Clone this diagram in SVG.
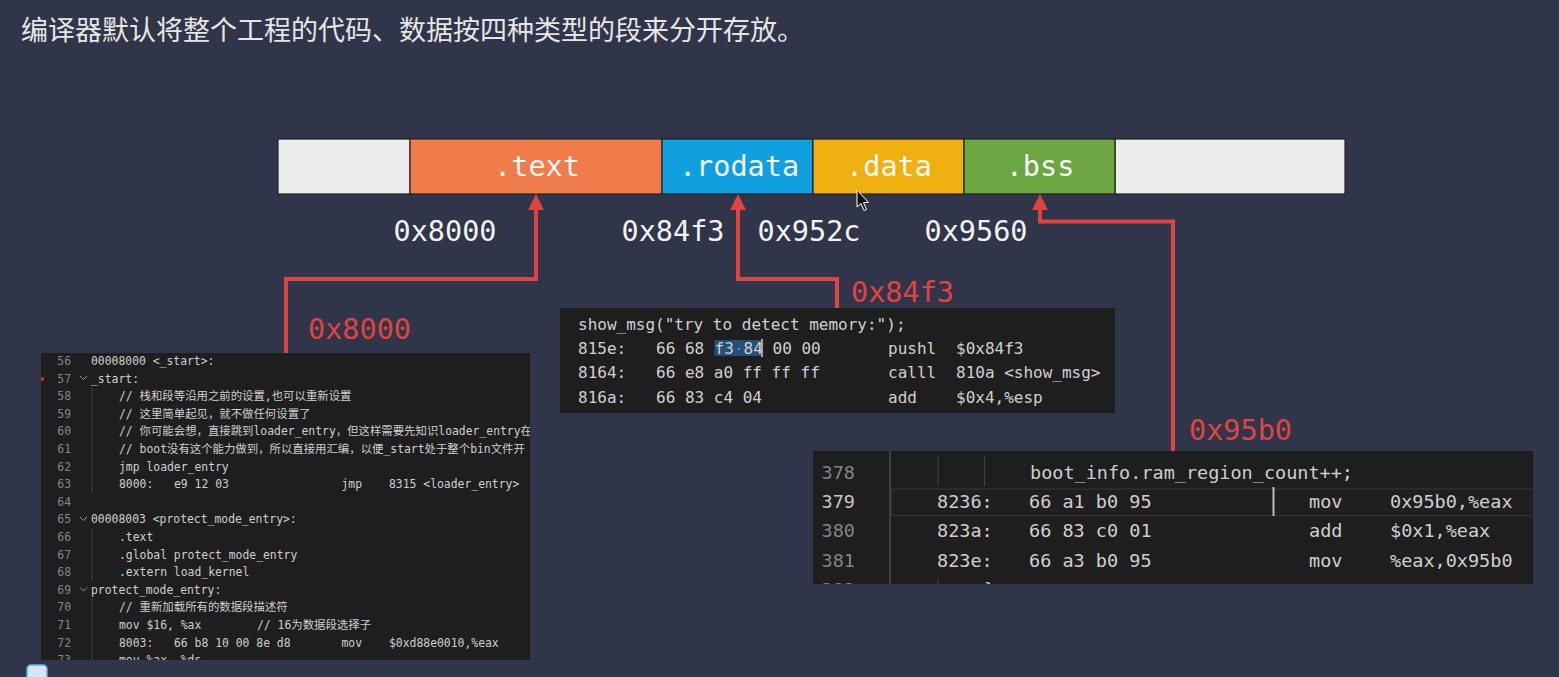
<svg xmlns="http://www.w3.org/2000/svg" width="1559" height="677" viewBox="0 0 1559 677">
<style>
.title{font-family:"Noto Sans CJK SC","Noto Sans",sans-serif;font-size:27px;fill:#e6e6e6}
.seg{stroke:#222;stroke-width:1.2}
.seglbl{font-family:"DejaVu Sans Mono",monospace;font-size:28.5px;fill:#f6f6f6;text-anchor:middle}
.addr{font-family:"DejaVu Sans Mono",monospace;font-size:28.5px;fill:#f2f2f2;text-anchor:middle}
.red{font-family:"DejaVu Sans Mono",monospace;font-size:28.5px;fill:#e04343}
.conn{fill:none;stroke:#e04343;stroke-width:4;marker-end:url(#ah)}
.codebg{fill:#1e1e1e}
.cs{font-family:"DejaVu Sans Mono","Noto Sans CJK SC",monospace;font-size:11.4px;fill:#cfcfcf}
.ln{font-family:"DejaVu Sans Mono",monospace;font-size:11.4px;fill:#858585;text-anchor:end}
.cm{font-family:"DejaVu Sans Mono",monospace;font-size:16px;fill:#d0d0d0}
.cl{font-family:"DejaVu Sans Mono",monospace;font-size:18.5px;fill:#cfcfcf}
.lnl{font-family:"DejaVu Sans Mono",monospace;font-size:18.5px;fill:#858585}
.guide{stroke:#404040;stroke-width:1}
.chev{fill:none;stroke:#9a9a9a;stroke-width:1}
</style>
<defs>
<marker id="ah" markerUnits="userSpaceOnUse" markerWidth="16" markerHeight="16" viewBox="0 0 16 16" refX="4" refY="8" orient="auto">
<path d="M0,0 L16,8 L0,16 Z" fill="#e04343"/>
</marker>
<clipPath id="clipL"><rect x="41" y="353" width="489" height="307"/></clipPath>
<clipPath id="clipR"><rect x="813" y="451" width="720" height="133"/></clipPath>
</defs>
<rect width="1559" height="677" fill="#313549"/>
<text class="title" x="21" y="40">编译器默认将整个工程的代码、数据按四种类型的段来分开存放。</text>

<g id="segment-bar">
<rect class="seg" x="278" y="139" width="132" height="55" fill="#ececec"/>
<rect class="seg" x="1115" y="139" width="230" height="55" fill="#ececec"/>
</g>
<g id="seg-text">
<rect class="seg" x="410" y="139" width="252" height="55" fill="#ef7c4a"/>
<text class="seglbl" x="537" y="176">.text</text>
</g>
<g id="seg-rodata">
<rect class="seg" x="662" y="139" width="151" height="55" fill="#10a0e0"/>
<text class="seglbl" x="739" y="176">.rodata</text>
</g>
<g id="seg-data">
<rect class="seg" x="813" y="139" width="151" height="55" fill="#efb111"/>
<text class="seglbl" x="889" y="176">.data</text>
</g>
<g id="seg-bss">
<rect class="seg" x="964" y="139" width="151" height="55" fill="#6ca643"/>
<text class="seglbl" x="1040" y="176">.bss</text>
</g>

<g id="addresses">
<text class="addr" x="445" y="241">0x8000</text>
<text class="addr" x="673" y="241">0x84f3</text>
<text class="addr" x="809" y="241">0x952c</text>
<text class="addr" x="976" y="241">0x9560</text>
</g>

<g id="connectors">
<path class="conn" d="M286,353 V279 H536 V206"/>
<path class="conn" d="M837,308 V279 H738 V206"/>
<path class="conn" d="M1173,452 V221.5 H1040 V206"/>
<text class="red" x="308" y="339">0x8000</text>
<text class="red" x="851" y="302">0x84f3</text>
<text class="red" x="1189" y="440">0x95b0</text>
</g>

<path d="M857,190 L857,207 L861,203.5 L864,210.5 L866.5,209.5 L863.5,202.5 L868.5,202.5 Z" fill="#111" stroke="#fff" stroke-width="1"/>

<g id="code-left">
<rect class="codebg" x="41" y="353" width="489" height="307"/>
<g clip-path="url(#clipL)">
<circle cx="42" cy="379" r="2" fill="#c0392b"/>
<line class="guide" x1="92" y1="388" x2="92" y2="493"/>
<line class="guide" x1="92" y1="529" x2="92" y2="581"/>
<line class="guide" x1="92" y1="599" x2="92" y2="662"/>
<path class="chev" d="M80,376 L83.5,379.5 L87,376"/>
<path class="chev" d="M80,517 L83.5,520.5 L87,517"/>
<path class="chev" d="M80,587.5 L83.5,591 L87,587.5"/>
<text class="ln" x="71" y="365">56</text>
<text class="ln" x="71" y="382.6">57</text>
<text class="ln" x="71" y="400.2">58</text>
<text class="ln" x="71" y="417.8">59</text>
<text class="ln" x="71" y="435.4">60</text>
<text class="ln" x="71" y="453">61</text>
<text class="ln" x="71" y="470.6">62</text>
<text class="ln" x="71" y="488.2">63</text>
<text class="ln" x="71" y="505.8">64</text>
<text class="ln" x="71" y="523.4">65</text>
<text class="ln" x="71" y="541">66</text>
<text class="ln" x="71" y="558.6">67</text>
<text class="ln" x="71" y="576.2">68</text>
<text class="ln" x="71" y="593.8">69</text>
<text class="ln" x="71" y="611.4">70</text>
<text class="ln" x="71" y="629">71</text>
<text class="ln" x="71" y="646.6">72</text>
<text class="ln" x="71" y="664.2">73</text>
<text class="cs" x="91" y="365">00008000 &lt;_start&gt;:</text>
<text class="cs" x="91" y="382.6">_start:</text>
<text class="cs" x="119" y="400.2">// 栈和段等沿用之前的设置,也可以重新设置</text>
<text class="cs" x="119" y="417.8">// 这里简单起见，就不做任何设置了</text>
<text class="cs" x="119" y="435.4">// 你可能会想，直接跳到loader_entry，但这样需要先知识loader_entry在</text>
<text class="cs" x="119" y="453">// boot没有这个能力做到，所以直接用汇编，以便_start处于整个bin文件开</text>
<text class="cs" x="119" y="470.6">jmp loader_entry</text>
<text class="cs" x="119" y="488.2">8000:</text>
<text class="cs" x="174" y="488.2">e9 12 03</text>
<text class="cs" x="341.5" y="488.2">jmp</text>
<text class="cs" x="389" y="488.2">8315 &lt;loader_entry&gt;</text>
<text class="cs" x="91" y="523.4">00008003 &lt;protect_mode_entry&gt;:</text>
<text class="cs" x="119" y="541">.text</text>
<text class="cs" x="119" y="558.6">.global protect_mode_entry</text>
<text class="cs" x="119" y="576.2">.extern load_kernel</text>
<text class="cs" x="91" y="593.8">protect_mode_entry:</text>
<text class="cs" x="119" y="611.4">// 重新加载所有的数据段描述符</text>
<text class="cs" x="119" y="629">mov $16, %ax</text>
<text class="cs" x="257" y="629">// 16为数据段选择子</text>
<text class="cs" x="119" y="646.6">8003:</text>
<text class="cs" x="174" y="646.6">66 b8 10 00 8e d8</text>
<text class="cs" x="341.5" y="646.6">mov</text>
<text class="cs" x="389" y="646.6">$0xd88e0010,%eax</text>
<text class="cs" x="119" y="664.2">mov %ax, %ds</text>
</g>
</g>

<g id="code-middle">
<rect class="codebg" x="560" y="308" width="555" height="105"/>
<rect x="714.5" y="340" width="47" height="16" fill="#264f78"/>
<circle cx="738.7" cy="349" r="1" fill="#8aa4c0"/>
<line x1="762" y1="339" x2="762" y2="357" stroke="#cfcfcf" stroke-width="1.5"/>
<text class="cm" x="578" y="329.5">show_msg("try to detect memory:");</text>
<text class="cm" x="578" y="353.9">815e:</text>
<text class="cm" x="656" y="353.9">66 68</text>
<text class="cm" x="714.6" y="353.9">f3</text>
<text class="cm" x="743.5" y="353.9">84</text>
<text class="cm" x="772.5" y="353.9">00 00</text>
<text class="cm" x="888" y="353.9">pushl</text>
<text class="cm" x="956" y="353.9">$0x84f3</text>
<text class="cm" x="578" y="378.3">8164:</text>
<text class="cm" x="656" y="378.3">66 e8 a0 ff ff ff</text>
<text class="cm" x="888" y="378.3">calll</text>
<text class="cm" x="956" y="378.3">810a &lt;show_msg&gt;</text>
<text class="cm" x="578" y="402.7">816a:</text>
<text class="cm" x="656" y="402.7">66 83 c4 04</text>
<text class="cm" x="888" y="402.7">add</text>
<text class="cm" x="956" y="402.7">$0x4,%esp</text>
</g>

<g id="code-right">
<rect class="codebg" x="813" y="451" width="720" height="133"/>
<g clip-path="url(#clipR)">
<rect x="891" y="489" width="645" height="26.5" fill="#1f1f1f" stroke="#343434" stroke-width="1.2"/>
<line x1="890" y1="451" x2="890" y2="584" stroke="#4a4a4a" stroke-width="1.5"/>
<line class="guide" x1="938" y1="456" x2="938" y2="486"/>
<line class="guide" x1="984.5" y1="456" x2="984.5" y2="486"/>
<line class="guide" x1="938" y1="578" x2="938" y2="590"/>
<line x1="1273.5" y1="487" x2="1273.5" y2="516" stroke="#bbbbbb" stroke-width="2"/>
<text class="lnl" x="821.5" y="479.3">378</text>
<text class="lnl" x="821.5" y="508.3" fill="#c6c6c6" style="fill:#c6c6c6">379</text>
<text class="lnl" x="821.5" y="537.3">380</text>
<text class="lnl" x="821.5" y="566.5">381</text>
<text class="lnl" x="821.5" y="595.5">382</text>
<text class="cl" x="1030" y="479.3">boot_info.ram_region_count++;</text>
<text class="cl" x="937" y="508.3">8236:</text>
<text class="cl" x="1029" y="508.3">66 a1 b0 95</text>
<text class="cl" x="1309" y="508.3">mov</text>
<text class="cl" x="1390" y="508.3">0x95b0,%eax</text>
<text class="cl" x="937" y="537.3">823a:</text>
<text class="cl" x="1029" y="537.3">66 83 c0 01</text>
<text class="cl" x="1309" y="537.3">add</text>
<text class="cl" x="1390" y="537.3">$0x1,%eax</text>
<text class="cl" x="937" y="566.5">823e:</text>
<text class="cl" x="1029" y="566.5">66 a3 b0 95</text>
<text class="cl" x="1309" y="566.5">mov</text>
<text class="cl" x="1390" y="566.5">%eax,0x95b0</text>
<text class="cl" x="984" y="595.5">}</text>
</g>
</g>

<rect x="27" y="665" width="20" height="16" rx="4" fill="#d8e4f4" stroke="#5ab0ee" stroke-width="1.5"/>
</svg>
